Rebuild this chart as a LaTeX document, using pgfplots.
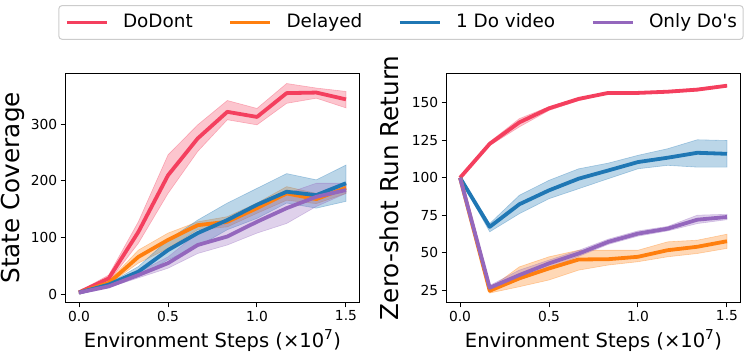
\documentclass[border=0pt]{standalone}
\usepackage{fontspec}
\setmainfont{DejaVu Sans}[Ligatures=TeXOff]
\usepackage{pgfplots}
\usepackage{pgfplotstable}
\pgfplotsset{compat=1.18}
\usepgfplotslibrary{fillbetween}

\definecolor{cred}{HTML}{F43F5E}
\definecolor{corange}{HTML}{FF7F0E}
\definecolor{cblue}{HTML}{1F77B4}
\definecolor{cpurple}{HTML}{9467BD}

% state coverage (left)
\pgfplotstableread{
x      y     lo    hi
0      3.5   2     5
0.1667 28    22    34
0.3333 110   90    128
0.5    210   178   246
0.6667 275   252   299
0.8333 322   308   342
1.0    313   299   328
1.1667 355   337   372
1.3333 356   346   364
1.5    344   329   358
}\covred
\pgfplotstableread{
x      y     lo    hi
0      3     2     4
0.1667 20    18    23
0.3333 66    55    78
0.5    96    81    108
0.6667 122   114   128
0.8333 128   119   137
1.0    152   143   161
1.1667 178   166   190
1.3333 168   160   178
1.5    188   178   196
}\covorange
\pgfplotstableread{
x      y     lo    hi
0      3     2     4
0.1667 17    15    19
0.3333 40    31    49
0.5    78    61    96
0.6667 108   84    131
0.8333 131   114   161
1.0    158   134   187
1.1667 181   161   213
1.3333 175   152   202
1.5    196   164   228
}\covblue
\pgfplotstableread{
x      y     lo    hi
0      3     2     4
0.1667 14    12    16
0.3333 34    29    39
0.5    55    46    66
0.6667 87    72    108
0.8333 102   87    125
1.0    128   108   155
1.1667 152   125   178
1.3333 172   155   196
1.5    184   178   196
}\covpurple

% zero-shot run return (right)
\pgfplotstableread{
x      y      lo     hi
0      100    99.5   100.5
0.1667 122.7  121.5  124
0.3333 137    134    139.5
0.5    146.4  145    147.5
0.6667 152.7  151.5  153.5
0.8333 156.7  156    157.3
1.0    156.7  156    157.3
1.1667 157.5  156.8  158.3
1.3333 158.9  158    159.8
1.5    161.5  160.8  162.2
}\retred
\pgfplotstableread{
x      y      lo     hi
0      100    99.5   100.5
0.1667 24.5   23     26
0.3333 32.8   27.2   40.5
0.5    39.4   31.7   47.2
0.6667 45.4   38.3   51.6
0.8333 45.6   41.7   51.6
1.0    47.2   43.9   51.6
1.1667 51.6   47.2   57.2
1.3333 53.9   49.4   58.3
1.5    57.6   52.8   62.3
}\retorange
\pgfplotstableread{
x      y      lo     hi
0      100    99.5   100.5
0.1667 67.2   63.9   69.4
0.3333 82.3   76     88.3
0.5    91.6   86     98.3
0.6667 99.4   92.7   106
0.8333 104.9  99.4   109.8
1.0    110.5  106    115
1.1667 113.4  108.3  119.4
1.3333 116.7  107.1  125.4
1.5    116    107.1  124.9
}\retblue
\pgfplotstableread{
x      y      lo     hi
0      100    99.5   100.5
0.1667 26.5   25     28
0.3333 35     31.7   38.3
0.5    42.8   39.4   45
0.6667 49.4   47.5   51.5
0.8333 57.2   55.5   59
1.0    62.7   61     64.5
1.1667 66     64.5   67.5
1.3333 72     69.4   75
1.5    73.8   72     75.6
}\retpurple

\pgfplotsset{
  panel/.style={
    width=293.6bp, height=229bp, scale only axis,
    anchor=south west,
    xmin=-0.075, xmax=1.575,
    xtick={0,0.5,1,1.5},
    xticklabel style={/pgf/number format/.cd, fixed, fixed zerofill, precision=1, /tikz/.cd},
    scaled ticks=false,
    tick align=outside, tick pos=left,
    major tick length=5bp,
    every tick/.style={black, line width=1bp},
    axis line style={line width=1.5bp},
    /pgf/number format/assume math mode=true,
    ticklabel style={font=\fontsize{13.8bp}{16bp}\selectfont},
    xlabel={Environment Steps (×10\textsuperscript{7})},
    xlabel style={font=\fontsize{19.5bp}{23bp}\selectfont,
      at={(axis description cs:0.5,-0.1965)}, anchor=base},
    ylabel style={font=\fontsize{24.7bp}{29bp}\selectfont, anchor=base},
  },
  band/.style={draw=#1, draw opacity=0.35, line width=0.6bp, fill=#1, fill opacity=0.3},
  curve/.style={#1, line width=3.8bp, line join=round},
}

% band + mean line for one run
\newcommand{\series}[3]{%
  \addplot[draw=none, forget plot, name path=#3hi] table[x=x, y=hi]{#1};
  \addplot[draw=none, forget plot, name path=#3lo] table[x=x, y=lo]{#1};
  \addplot[band=#2, forget plot] fill between[of=#3hi and #3lo];
  \addplot[curve=#2, forget plot] table[x=x, y=y]{#1};
}

\begin{document}
\begin{tikzpicture}
\begin{axis}[panel,
  at={(65.7bp,51.7bp)},
  ymin=-14.1, ymax=390,
  ytick={0,100,200,300},
  ylabel={State Coverage},
  ylabel style={at={(axis description cs:-0.1567,0.5)}},
  legend columns=4,
  legend image code/.code={\draw[#1, line width=3.8bp] (0bp,0bp) -- (40bp,0bp);},
  legend style={at={(1.142,1.222)}, anchor=center,
    draw=black!20, rounded corners=3bp, line width=1bp,
    font=\fontsize{18.4bp}{22bp}\selectfont,
    inner xsep=6bp, inner ysep=7.8bp,
    nodes={inner sep=0pt, text height=14.5bp, text depth=3.5bp},
    /tikz/every odd column/.append style={column sep=14.3bp},
    /tikz/every even column/.append style={column sep=35.7bp}},
]
\addlegendimage{cred}\addlegendentry{DoDont}
\addlegendimage{corange}\addlegendentry{Delayed}
\addlegendimage{cblue}\addlegendentry{1 Do video}
\addlegendimage{cpurple}\addlegendentry{Only Do's}
\series{\covred}{cred}{a}
\series{\covorange}{corange}{b}
\series{\covblue}{cblue}{c}
\series{\covpurple}{cpurple}{d}
\end{axis}

\begin{axis}[panel,
  at={(446.7bp,51.7bp)},
  ymin=16.8, ymax=169.8,
  ytick={25,50,75,100,125,150},
  ylabel={Zero-shot Run Return},
  ylabel style={at={(axis description cs:-0.163,0.5)}},
]
\series{\retred}{cred}{a}
\series{\retblue}{cblue}{c}
\series{\retorange}{corange}{b}
\series{\retpurple}{cpurple}{d}
\end{axis}
\pgfresetboundingbox
\path[use as bounding box] (0,0) rectangle (747bp,354bp);
\end{tikzpicture}
\end{document}
